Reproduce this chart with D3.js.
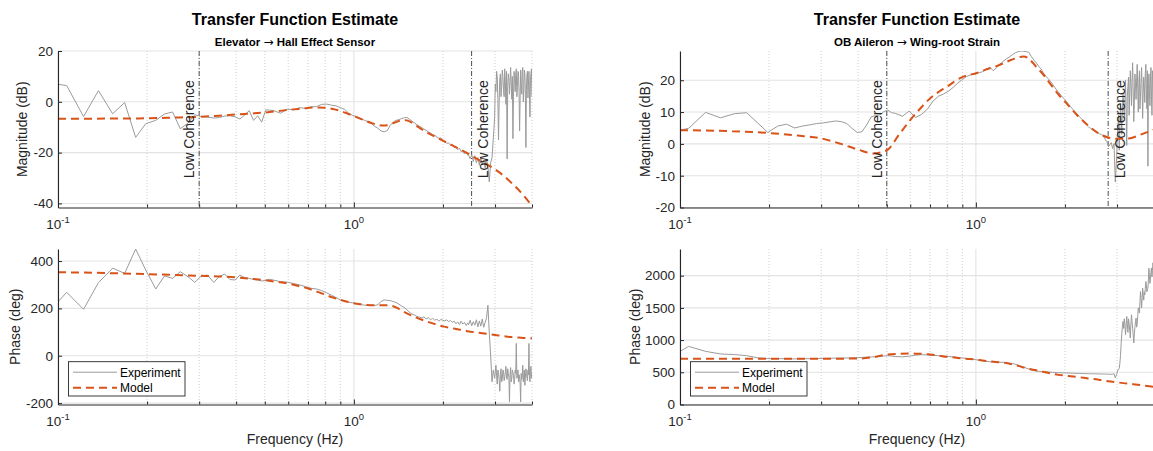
<!DOCTYPE html>
<html>
<head>
<meta charset="utf-8">
<script src="https://cdn.jsdelivr.net/npm/d3@7"></script>
<style>
  body { margin: 0; background: #fff; }
  svg { display: block; }
</style>
</head>
<body>
<svg id="fig" width="1153" height="451"></svg>
<script>
// ---- Measured frequency-response data (FFT bins shared by both experiments) ----
const freqHz = [
  0.100, 0.107, 0.122, 0.137, 0.153, 0.168, 0.183, 0.198, 0.214, 0.229,
  0.244, 0.259, 0.275, 0.290, 0.305, 0.320, 0.336, 0.351, 0.366, 0.381,
  0.397, 0.412, 0.427, 0.443, 0.458, 0.473, 0.488, 0.504, 0.519, 0.534,
  0.565, 0.595, 0.626, 0.656, 0.687, 0.717, 0.748, 0.778, 0.809, 0.839,
  0.870, 0.900, 0.931, 0.961, 0.992, 1.022, 1.053, 1.083, 1.114, 1.144,
  1.175, 1.205, 1.236, 1.266, 1.297, 1.328, 1.358, 1.389, 1.419, 1.450,
  1.480, 1.511, 1.541,
  1.572, 1.602, 1.633, 1.663, 1.694, 1.724, 1.755, 1.785, 1.816, 1.846,
  1.877, 1.907, 1.938, 1.968, 1.999, 2.029, 2.060, 2.090, 2.121, 2.152,
  2.182, 2.213, 2.243, 2.274, 2.304, 2.335, 2.365, 2.396, 2.426,
  2.441, 2.472, 2.502, 2.533, 2.563, 2.594, 2.625, 2.655, 2.686, 2.716,
  2.747, 2.777, 2.808, 2.838, 2.869, 2.899, 2.930, 2.960,
  2.991, 3.006, 3.021, 3.037, 3.052, 3.067, 3.082, 3.098, 3.113, 3.128,
  3.143, 3.159, 3.174, 3.189, 3.204, 3.220, 3.235, 3.250, 3.265, 3.281,
  3.296, 3.311, 3.326, 3.342, 3.357, 3.372, 3.387, 3.403, 3.418, 3.433,
  3.448, 3.464, 3.479, 3.494, 3.510, 3.525, 3.540, 3.555, 3.571, 3.586,
  3.601, 3.616, 3.632, 3.647, 3.662, 3.677, 3.693, 3.708, 3.723, 3.738,
  3.754, 3.769, 3.784, 3.799, 3.815, 3.830, 3.845, 3.860, 3.876, 3.891,
  3.906, 3.922, 3.937, 3.952, 3.967, 3.983, 3.998
];

// Elevator -> Hall Effect Sensor, measured
const elevMagDb = [
  6.9, 6.4, -5.8, 4.4, -4.7, -0.3, -14.0, -8.6, -7.3, -4.8,
  -4.0, -10.6, -8.4, -5.1, -5.8, -6.0, -6.4, -6.2, -5.6, -5.5,
  -5.9, -6.8, -5.2, -3.5, -7.3, -5.5, -8.0, -3.1, -3.3, -3.4,
  -4.5, -2.9, -3.1, -2.3, -2.6, -2.0, -1.9, -1.0, -0.9, -1.3,
  -1.6, -2.3, -3.0, -4.6, -5.4, -5.8, -6.5, -7.2, -7.8, -8.5,
  -9.6, -10.4, -11.5, -11.8, -11.3, -9.2, -8.0, -7.3, -7.0, -6.6,
  -6.3, -6.1, -6.9,
  -7.6, -8.3, -9.0, -9.6, -10.1, -10.7, -11.2, -11.9, -12.2, -12.9,
  -13.2, -13.8, -14.4, -14.2, -15.3, -15.6, -16.4, -16.1, -17.2, -16.9,
  -18.0, -17.6, -18.9, -18.2, -19.6, -19.1, -20.5, -19.8, -21.0,
  -21.0, -22.4, -20.8, -23.5, -21.2, -24.0, -22.0, -25.0, -21.8, -24.5,
  -23.0, -26.0, -22.5, -25.5, -31.5, -24.0, -22.0, -14.5,
  -6.0, 7.0, 4.0, 12.0, 10.0, 1.0, -15.0, 0.0, 9.0, 11.0,
  2.0, 6.0, 12.5, 10.0, 5.0, 2.0, 13.0, 8.0, -1.0, 12.0,
  -22.5, 6.0, 11.0, 9.0, 3.0, 8.0, 13.5, 7.0, 1.0, 10.0,
  -14.5, 2.0, 12.0, 9.0, 4.0, 11.0, 13.0, 2.0, 6.0, 12.0,
  11.5, 4.0, -11.5, 1.0, 12.5, 7.0, 3.0, 12.0, 13.5, 0.0,
  5.0, 12.5, 11.0, 3.0, -18.0, 5.0, 10.5, 12.0, 1.5, 7.0,
  12.0, 3.0, -6.0, 9.0, 11.0, 13.0, 2.0
];
const elevPhaseDeg = [
  228, 268, 196, 309, 370, 348, 451, 362, 282, 337,
  327, 355, 334, 310, 337, 341, 310, 335, 345, 322,
  320, 341, 330, 327, 322, 320, 316, 318, 323, 320,
  313, 311, 305, 299, 292, 285, 282, 275, 266, 256,
  246, 236, 232, 226, 223, 220, 216, 214, 213, 214,
  212, 216, 229, 236, 234, 233, 229, 225, 218, 210,
  204, 194, 184,
  176, 172, 166, 163, 160, 164, 156, 161, 152, 158,
  150, 155, 146, 153, 150, 147, 152, 144, 149, 141,
  146, 135, 143, 132, 146, 134, 141, 128, 139,
  131, 150, 126, 144, 129, 152, 122, 147, 125, 155,
  120, 140, 160, 213, 95, 3, -110, -60,
  -95, -70, -40, -85, -120, -60, -70, -100, -150, -80,
  -55, -110, -100, -60, -65, -105, -90, -70, -45, -95,
  -100, -55, -75, -90, -195, -80, -50, -110, -95, -60,
  -70, -85, -120, -100, -60, -75, 52, -95, -85, -60,
  -110, -80, -90, -120, -195, -75, -100, -85, -40, -110,
  -80, -60, -125, -95, -55, -75, -90, -105, -60, -80,
  52, -90, -110, -65, -45, -95, -70
];

// OB Aileron -> Wing-root Strain, measured
const ailMagDb = [
  4.3, 4.9, 9.9, 8.2, 9.5, 9.8, 6.6, 3.6, 5.6, 6.2,
  5.0, 5.6, 6.0, 6.4, 6.6, 6.9, 7.2, 7.0, 6.4, 4.9,
  3.6, 3.8, 5.9, 8.5, 8.9, 9.1, 10.1, 10.6, 9.8, 9.6,
  8.7, 10.3, 8.3, 9.3, 11.0, 13.5, 15.0, 15.7, 16.6, 17.8,
  19.2, 20.2, 21.2, 21.7, 21.9, 22.3, 22.7, 23.3, 24.2, 23.0,
  24.0, 25.0, 25.9, 26.7, 27.3, 28.0, 28.6, 29.0, 29.2, 29.1,
  29.0, 28.8, 27.4,
  26.3, 25.4, 24.3, 23.5, 22.2, 21.3, 20.5, 19.7, 18.8, 17.8,
  16.9, 16.1, 15.3, 14.6, 13.9, 13.2, 12.4, 11.7, 11.0, 10.3,
  9.7, 9.1, 8.5, 7.9, 7.4, 6.6, 6.0, 5.5, 5.0,
  4.9, 4.5, 4.2, 3.9, 3.6, 3.3, 3.1, 2.9, 2.7, 2.0,
  1.2, 0.6, -0.9, -0.2, 0.4, -1.5, 0.1, -12.0,
  -4.0, 2.0, 6.0, 9.0, -2.0, 5.0, 12.0, 8.0, 3.0, 10.0,
  16.0, 12.0, 8.0, 14.0, 20.0, 10.0, -0.5, 15.0, 18.0, 21.0,
  9.0, 16.0, 23.0, 18.0, 12.0, 20.0, 25.5, 16.0, 7.0, 13.0,
  22.0, 19.0, 14.0, 20.0, 25.0, 17.0, 10.0, 19.0, 23.0, 11.0,
  15.0, 20.0, 24.0, 17.0, 8.0, 16.0, 21.0, 18.0, 13.0, 22.0,
  25.0, 16.0, 11.0, 23.0, -7.0, 17.0, 22.0, 16.0, 12.0, 20.0,
  24.0, 15.0, 9.0, 23.0, 20.0, 11.0, 14.0
];
const ailPhaseDeg = [
  825, 902, 825, 785, 774, 759, 725, 712, 712, 710,
  708, 710, 712, 714, 716, 718, 720, 721, 722, 724,
  726, 730, 735, 738, 742, 746, 752, 758, 752, 745,
  740, 750, 765, 774, 768, 762, 758, 752, 745, 738,
  730, 722, 713, 705, 698, 688, 678, 670, 664, 660,
  657, 655, 655, 650, 643, 636, 625, 610, 596, 582,
  565, 550, 535,
  528, 520, 515, 511, 508, 506, 504, 501, 499, 497,
  495, 494, 492, 491, 490, 489, 488, 487, 486, 485,
  484, 483, 482, 481, 480, 480, 479, 478, 478,
  477, 477, 476, 476, 475, 475, 474, 474, 473, 473,
  472, 471, 471, 470, 468, 470, 478, 413,
  470, 505, 541, 545, 560, 640, 760, 950, 1100, 1210,
  1290, 1180, 1330, 1250, 1084, 1220, 1367, 1260, 1120, 1330,
  1250, 1150, 1032, 1250, 1393, 1300, 1180, 1080, 955, 1100,
  1200, 1290, 1341, 1200, 1250, 1380, 1500, 1460, 1420, 1600,
  1754, 1650, 1497, 1640, 1806, 1700, 1620, 1750, 1703, 1800,
  1909, 1850, 1750, 1780, 1806, 1950, 2116, 1990, 1880, 1950,
  2050, 2120, 1980, 2080, 2200, 2150, 2100
];

// ---- Fitted model responses ----
const modelFreqHz = [
  0.10, 0.15, 0.20, 0.25, 0.30, 0.35, 0.40, 0.45, 0.50, 0.55,
  0.60, 0.65, 0.70, 0.75, 0.80, 0.85, 0.90, 0.95, 1.00,
  1.05, 1.10, 1.15, 1.20, 1.25, 1.30, 1.35, 1.40, 1.45, 1.50,
  1.60, 1.70, 1.80, 1.90, 2.00,
  2.20, 2.40, 2.60, 2.80, 3.00, 3.20, 3.40, 3.60, 3.80, 4.00
];
const elevModelMagDb = [
  -6.7, -6.6, -6.5, -6.2, -5.9, -5.5, -5.0, -4.6, -4.2, -3.7,
  -3.2, -2.8, -2.4, -2.2, -2.3, -2.8, -3.6, -4.6, -5.6,
  -6.6, -7.6, -8.4, -9.0, -9.3, -9.2, -8.6, -7.8, -7.3, -7.3,
  -8.8, -10.9, -12.6, -14.0, -15.3,
  -17.7, -20.0, -22.4, -24.4, -26.6, -29.0, -31.8, -34.6, -37.7, -41.0
];
const elevModelPhaseDeg = [
  353, 349, 345, 341, 338, 335, 331, 325, 319, 312,
  305, 295, 284, 271, 258, 246, 236, 228, 222,
  218, 215, 213, 213, 213, 213, 210, 202, 191, 181,
  165, 152, 141, 132, 124,
  114, 105, 98, 93, 88, 83, 79, 77, 75, 74
];
const ailModelMagDb = [
  4.3, 4.0, 3.4, 2.6, 1.7, 0.0, -1.8, -3.0, -2.0, 2.9,
  7.5, 11.2, 14.3, 16.4, 18.0, 19.7, 21.0, 21.7, 22.2,
  22.9, 23.6, 24.1, 24.8, 25.5, 26.2, 26.8, 27.3, 27.5, 27.0,
  24.2, 21.5, 18.4, 15.6, 13.3,
  9.0, 5.7, 3.3, 2.0, 1.6, 1.6, 2.0, 2.9, 3.7, 4.5
];
const ailModelPhaseDeg = [
  712, 712, 712, 712, 712, 712, 713, 735, 774, 786,
  790, 789, 776, 758, 740, 728, 716, 708, 698,
  684, 672, 664, 656, 648, 632, 614, 596, 574, 556,
  531, 505, 481, 460, 449,
  428, 405, 385, 362, 344, 328, 315, 302, 288, 274
];

// Coherence limits (Hz) marked on the magnitude plots
const elevCoherenceHz = [0.3, 2.5];
const ailCoherenceHz = [0.5, 2.8];

// Axis ticks
const freqDomain = [0.1, 4];
const decadeTicks = [0.1, 1];
const decadeExponents = ["-1", "0"];
const minorFreqTicks = [0.2, 0.3, 0.4, 0.5, 0.6, 0.7, 0.8, 0.9, 2, 3, 4];
const elevMagTicks = [-40, -20, 0, 20];
const elevPhaseTicks = [-200, 0, 200, 400];
const ailMagTicks = [-20, -10, 0, 10, 20];
const ailPhaseTicks = [0, 500, 1000, 1500, 2000];

// Subtitle parts: input -> output
const elevSignals = ["Elevator", "Hall Effect Sensor"];
const ailSignals = ["OB Aileron", "Wing-root Strain"];

// ---- Drawing ----
const FONT = '"Liberation Sans", Arial, Helvetica, sans-serif';
const INK = "#262626";
const EXP_COLOR = "#9a9a9a";
const MODEL_COLOR = "#D95319";
const svg = d3.select("#fig");
const defs = svg.append("defs");
const plainNumber = d => String(d);  // hyphen minus, no thousands separator

const layout = {
  magTop: 51, magBottom: 207.5,
  phaseTop: 249, phaseBottom: 404.5
};

const columns = [
  {
    x0: 58, x1: 532,
    signals: elevSignals,
    magDb: elevMagDb, phaseDeg: elevPhaseDeg,
    modelMag: elevModelMagDb, modelPhase: elevModelPhaseDeg,
    coherence: elevCoherenceHz,
    magDomain: [-41.6, 20], magTicks: elevMagTicks,
    phaseDomain: [-206, 451], phaseTicks: elevPhaseTicks,
    magLabelOffset: 31, phaseLabelOffset: 38
  },
  {
    x0: 680, x1: 1154,
    signals: ailSignals,
    magDb: ailMagDb, phaseDeg: ailPhaseDeg,
    modelMag: ailModelMagDb, modelPhase: ailModelPhaseDeg,
    coherence: ailCoherenceHz,
    magDomain: [-20, 29.2], magTicks: ailMagTicks,
    phaseDomain: [0, 2414], phaseTicks: ailPhaseTicks,
    magLabelOffset: 30, phaseLabelOffset: 40
  }
];

let clipCount = 0;

function drawPanel(col, opt) {
  const g = svg.append("g");
  const x = d3.scaleLog().domain(freqDomain).range([col.x0, col.x1]);
  const y = d3.scaleLinear().domain(opt.domain).range([opt.bottom, opt.top]);

  const clipId = "clip" + (clipCount++);
  defs.append("clipPath").attr("id", clipId)
    .append("rect")
    .attr("x", col.x0).attr("y", opt.top)
    .attr("width", col.x1 - col.x0).attr("height", opt.bottom - opt.top);

  // grid: horizontal majors
  g.append("g").selectAll("line").data(opt.ticks).join("line")
    .attr("x1", col.x0).attr("x2", col.x1)
    .attr("y1", d => y(d)).attr("y2", d => y(d))
    .attr("stroke", "#e3e3e3").attr("stroke-width", 1.1);

  // grid: vertical decade lines and dotted minor lines
  g.append("g").selectAll("line").data(decadeTicks).join("line")
    .attr("x1", d => x(d)).attr("x2", d => x(d))
    .attr("y1", opt.top).attr("y2", opt.bottom)
    .attr("stroke", "#e3e3e3").attr("stroke-width", 1.1);
  g.append("g").selectAll("line").data(minorFreqTicks).join("line")
    .attr("x1", d => x(d)).attr("x2", d => x(d))
    .attr("y1", opt.top).attr("y2", opt.bottom)
    .attr("stroke", "#c4c4c4").attr("stroke-width", 0.8)
    .attr("stroke-dasharray", "1,2");

  const plot = g.append("g").attr("clip-path", `url(#${clipId})`);

  // coherence limits
  if (opt.coherence) {
    plot.selectAll("line.coh").data(opt.coherence).join("line")
      .attr("class", "coh")
      .attr("x1", d => x(d)).attr("x2", d => x(d))
      .attr("y1", opt.top).attr("y2", opt.bottom)
      .attr("stroke", "#3a3a3a").attr("stroke-width", 0.9)
      .attr("stroke-dasharray", "5,2,1,2");
    const mid = (opt.top + opt.bottom) / 2;
    opt.coherence.forEach((f, i) => {
      const lx = i === 0 ? x(f) - 4.7 : x(f) + 16.8;
      g.append("text")
        .attr("transform", `translate(${lx},${mid}) rotate(-90)`)
        .attr("text-anchor", "middle")
        .attr("font-family", FONT).attr("font-size", 14)
        .attr("fill", INK)
        .text("Low Coherence");
    });
  }

  const line = d3.line().x(d => x(d[0])).y(d => y(d[1]));
  const modelLine = d3.line().x(d => x(d[0])).y(d => y(d[1])).curve(d3.curveMonotoneX);

  plot.append("path")
    .datum(d3.zip(freqHz, opt.exp))
    .attr("d", line)
    .attr("fill", "none").attr("stroke", EXP_COLOR)
    .attr("stroke-width", 1).attr("stroke-linejoin", "round");

  plot.append("path")
    .datum(d3.zip(modelFreqHz, opt.model))
    .attr("d", modelLine)
    .attr("fill", "none").attr("stroke", MODEL_COLOR)
    .attr("stroke-width", 2).attr("stroke-dasharray", "8,5");

  // axes (inward ticks, no box)
  const xMajor = d3.axisBottom(x).tickValues(decadeTicks)
    .tickSizeInner(-5).tickSizeOuter(0).tickFormat("");
  const xMinor = d3.axisBottom(x).tickValues(minorFreqTicks)
    .tickSizeInner(-3).tickSizeOuter(0).tickFormat("");
  const gx = g.append("g").attr("transform", `translate(0,${opt.bottom})`).call(xMajor);
  const gxm = g.append("g").attr("transform", `translate(0,${opt.bottom})`).call(xMinor);
  gxm.select(".domain").remove();
  [gx, gxm].forEach(a => {
    a.selectAll("path, line").attr("stroke", INK);
    a.select(".domain").attr("stroke-width", 1.1);
  });

  // decade labels 10^n
  decadeTicks.forEach((v, i) => {
    const t = g.append("text")
      .attr("x", x(v)).attr("y", opt.bottom + 21)
      .attr("text-anchor", "middle")
      .attr("font-family", FONT).attr("font-size", 13.5)
      .attr("fill", INK);
    t.append("tspan").text("10");
    t.append("tspan").attr("dy", -6).attr("font-size", 9.5).text(decadeExponents[i]);
  });

  const yAxis = d3.axisLeft(y).tickValues(opt.ticks).tickFormat(plainNumber)
    .tickSizeInner(-4).tickSizeOuter(0).tickPadding(5);
  const gy = g.append("g").attr("transform", `translate(${col.x0},0)`).call(yAxis);
  gy.attr("font-family", FONT).attr("font-size", 13.5);
  gy.selectAll("path, line").attr("stroke", INK);
  gy.select(".domain").attr("stroke-width", 1.1);
  gy.selectAll("text").attr("fill", INK);

  // y label
  g.append("text")
    .attr("transform", `translate(${col.x0 - opt.labelOffset},${(opt.top + opt.bottom) / 2}) rotate(-90)`)
    .attr("text-anchor", "middle")
    .attr("font-family", FONT).attr("font-size", 14)
    .attr("fill", INK)
    .text(opt.label);

  return { x, y, g };
}

columns.forEach(col => {
  const cx = (col.x0 + col.x1) / 2;

  svg.append("text")
    .attr("x", cx).attr("y", 25)
    .attr("text-anchor", "middle")
    .attr("font-family", FONT).attr("font-size", 16).attr("font-weight", "bold")
    .attr("fill", "#000")
    .text("Transfer Function Estimate");

  const sub = svg.append("text")
    .attr("x", cx).attr("y", 46)
    .attr("text-anchor", "middle")
    .attr("font-family", FONT).attr("font-size", 11.5).attr("font-weight", "bold")
    .attr("fill", "#000");
  sub.append("tspan").text(col.signals[0] + " ");
  sub.append("tspan")
    .attr("font-family", '"DejaVu Sans", sans-serif')
    .attr("font-weight", "normal").attr("font-size", 12)
    .text("\u2192");
  sub.append("tspan").text(" " + col.signals[1]);

  drawPanel(col, {
    top: layout.magTop, bottom: layout.magBottom,
    domain: col.magDomain, ticks: col.magTicks,
    exp: col.magDb, model: col.modelMag,
    coherence: col.coherence,
    label: "Magnitude (dB)", labelOffset: col.magLabelOffset
  });

  const ph = drawPanel(col, {
    top: layout.phaseTop, bottom: layout.phaseBottom,
    domain: col.phaseDomain, ticks: col.phaseTicks,
    exp: col.phaseDeg, model: col.modelPhase,
    coherence: null,
    label: "Phase (deg)", labelOffset: col.phaseLabelOffset
  });

  // legend
  const lx = col.x0 + 10.5, ly = 361.7;
  const leg = ph.g.append("g");
  leg.append("rect")
    .attr("x", lx).attr("y", ly).attr("width", 116.5).attr("height", 34.3)
    .attr("fill", "#fff").attr("stroke", INK).attr("stroke-width", 0.9);
  const items = [
    { name: "Experiment", color: EXP_COLOR, width: 1, dash: null },
    { name: "Model", color: MODEL_COLOR, width: 2, dash: "8,5" }
  ];
  items.forEach((it, i) => {
    const yy = ly + 10.5 + i * 15.5;
    leg.append("line")
      .attr("x1", lx + 4.5).attr("x2", lx + 48.5)
      .attr("y1", yy).attr("y2", yy)
      .attr("stroke", it.color).attr("stroke-width", it.width)
      .attr("stroke-dasharray", it.dash);
    leg.append("text")
      .attr("x", lx + 51.5).attr("y", yy + 4.3)
      .attr("font-family", FONT).attr("font-size", 12)
      .attr("fill", "#000")
      .text(it.name);
  });

  svg.append("text")
    .attr("x", cx).attr("y", 444)
    .attr("text-anchor", "middle")
    .attr("font-family", FONT).attr("font-size", 14)
    .attr("fill", INK)
    .text("Frequency (Hz)");
});
</script>
</body>
</html>
